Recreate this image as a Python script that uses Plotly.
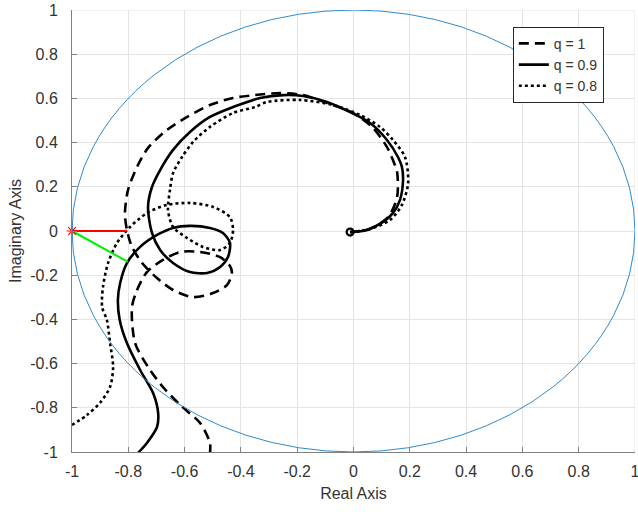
import plotly.graph_objects as go

# Nyquist loci of the fractional-order loop for three orders q
q1_re = [-0.012, 0.06, 0.123, 0.155, 0.155, 0.147, 0.119, 0.066, -0.002, -0.094,
         -0.179, -0.261, -0.350, -0.428, -0.510, -0.591, -0.663, -0.730, -0.769, -0.801,
         -0.812, -0.805, -0.787, -0.751, -0.698, -0.641, -0.570, -0.499, -0.449, -0.432,
         -0.439, -0.474, -0.545, -0.616, -0.677, -0.734, -0.769, -0.787, -0.776, -0.730,
         -0.677, -0.616, -0.545, -0.510, -0.510]
q1_im = [-0.005, 0.010, 0.063, 0.154, 0.267, 0.299, 0.380, 0.471, 0.534, 0.579,
         0.615, 0.624, 0.615, 0.602, 0.570, 0.516, 0.457, 0.376, 0.290, 0.186,
         0.081, 0.005, -0.072, -0.145, -0.213, -0.267, -0.299, -0.281, -0.244, -0.190,
         -0.158, -0.118, -0.095, -0.095, -0.131, -0.186, -0.267, -0.344, -0.507, -0.615,
         -0.706, -0.787, -0.869, -0.959, -1.005]

q09_re = [-0.012, 0.048, 0.105, 0.140, 0.165, 0.176, 0.172, 0.158, 0.119, 0.059,
          -0.012, -0.094, -0.179, -0.250, -0.332, -0.428, -0.510, -0.581, -0.641, -0.687,
          -0.716, -0.730, -0.716, -0.687, -0.641, -0.581, -0.520, -0.474, -0.446, -0.439,
          -0.464, -0.510, -0.581, -0.641, -0.698, -0.758, -0.805, -0.829, -0.837, -0.831,
          -0.805, -0.758, -0.712, -0.694, -0.698, -0.734, -0.766]
q09_im = [-0.005, 0.005, 0.041, 0.081, 0.140, 0.231, 0.290, 0.335, 0.412, 0.489,
          0.538, 0.584, 0.611, 0.615, 0.602, 0.561, 0.516, 0.448, 0.367, 0.276,
          0.199, 0.109, -0.009, -0.086, -0.145, -0.186, -0.190, -0.163, -0.118, -0.054,
          -0.009, 0.014, 0.023, 0.014, -0.018, -0.072, -0.145, -0.235, -0.310, -0.400,
          -0.507, -0.629, -0.733, -0.824, -0.887, -0.959, -1.005]

q08_re = [-0.012, 0.059, 0.130, 0.172, 0.194, 0.183, 0.140, 0.094, 0.023, -0.073,
          -0.190, -0.307, -0.350, -0.428, -0.510, -0.570, -0.609, -0.641, -0.652, -0.659,
          -0.641, -0.591, -0.535, -0.474, -0.439, -0.428, -0.439, -0.499, -0.581, -0.663,
          -0.734, -0.794, -0.840, -0.872, -0.890, -0.893, -0.876, -0.865, -0.854, -0.865,
          -0.901, -0.947, -1.000]
q08_im = [-0.005, 0.009, 0.050, 0.118, 0.217, 0.335, 0.412, 0.471, 0.525, 0.570,
          0.593, 0.584, 0.561, 0.534, 0.471, 0.403, 0.335, 0.262, 0.186, 0.095,
          0.018, -0.032, -0.072, -0.086, -0.054, 0.005, 0.063, 0.109, 0.127, 0.118,
          0.081, 0.018, -0.054, -0.145, -0.253, -0.344, -0.403, -0.507, -0.615, -0.706,
          -0.778, -0.833, -0.878]

# critical point and the two distance segments
crit = (-1.0, 0.0)
red_end = (-0.805, 0.0)
green_end = (-0.801, -0.140)

tick_vals = [-1, -0.8, -0.6, -0.4, -0.2, 0, 0.2, 0.4, 0.6, 0.8, 1]
tick_text = ["-1", "-0.8", "-0.6", "-0.4", "-0.2", "0", "0.2", "0.4", "0.6", "0.8", "1"]

FONT = "Liberation Sans, Arial, sans-serif"
TXT = "#333333"
GRID = "#e4e4e4"

fig = go.Figure()

series = [
    ("q = 1", q1_re, q1_im, "10px,6px"),
    ("q = 0.9", q09_re, q09_im, "solid"),
    ("q = 0.8", q08_re, q08_im, "3px,3px"),
]
for name, re, im, dash in series:
    fig.add_trace(go.Scatter(
        x=re, y=im, mode="lines", name=name,
        line=dict(color="black", width=2.6, dash=dash, shape="spline", smoothing=0.8),
    ))

# start marker at the origin
fig.add_trace(go.Scatter(
    x=[q09_re[0]], y=[q09_im[0]], mode="markers", showlegend=False,
    marker=dict(symbol="circle-open", size=7, color="black", line=dict(width=2.2)),
))

fig.add_trace(go.Scatter(
    x=[crit[0], red_end[0]], y=[crit[1], red_end[1]], mode="lines",
    line=dict(color="#ff0000", width=2), showlegend=False,
))
fig.add_trace(go.Scatter(
    x=[crit[0], green_end[0]], y=[crit[1], green_end[1]], mode="lines",
    line=dict(color="#00ee00", width=2), showlegend=False,
))
fig.add_trace(go.Scatter(
    x=[crit[0]], y=[crit[1]], mode="markers", showlegend=False, cliponaxis=False,
    marker=dict(symbol="asterisk-open", size=9, color="#ff0000", line=dict(width=1.2, color="#ff0000")),
))

# grid lines on the far edges of the box
fig.add_shape(type="line", xref="x", yref="y", x0=tick_vals[-1], x1=tick_vals[-1],
              y0=tick_vals[0], y1=tick_vals[-1], line=dict(color=GRID, width=1), layer="below")
fig.add_shape(type="line", xref="x", yref="y", y0=tick_vals[-1], y1=tick_vals[-1],
              x0=tick_vals[0], x1=tick_vals[-1], line=dict(color=GRID, width=1), layer="below")

# unit circle
fig.add_shape(type="circle", xref="x", yref="y", x0=-1, y0=-1, x1=1, y1=1,
              line=dict(color="#2f8ad0", width=1), layer="above")

axis_common = dict(
    range=[-1.0001, 1.0001], tickmode="array", tickvals=tick_vals, ticktext=tick_text,
    showgrid=True, gridcolor=GRID, gridwidth=1, zeroline=False, automargin=False,
    showline=True, linecolor="#808080", linewidth=1, mirror=False,
    ticks="inside", ticklen=5, tickcolor="#808080", ticklabeloverflow="allow",
    tickfont=dict(family=FONT, size=16, color=TXT),
)

fig.update_layout(
    width=638, height=512,
    margin=dict(l=72, r=3, t=10, b=60, autoexpand=False),
    paper_bgcolor="white", plot_bgcolor="white",
    font=dict(family=FONT, size=16, color=TXT),
    xaxis=dict(axis_common, ticklabelstandoff=5,
               title=dict(text="Real Axis", font=dict(family=FONT, size=16, color=TXT), standoff=8)),
    yaxis=dict(axis_common, ticklabelstandoff=10,
               title=dict(text="Imaginary Axis", font=dict(family=FONT, size=16, color=TXT), standoff=4)),
    legend=dict(
        x=0.783, y=0.962, xanchor="left", yanchor="top",
        bgcolor="white", bordercolor="#262626", borderwidth=1,
        font=dict(family=FONT, size=14, color=TXT),
        tracegroupgap=0, itemwidth=30,
    ),
    showlegend=True,
)

fig.write_html("out.html")
